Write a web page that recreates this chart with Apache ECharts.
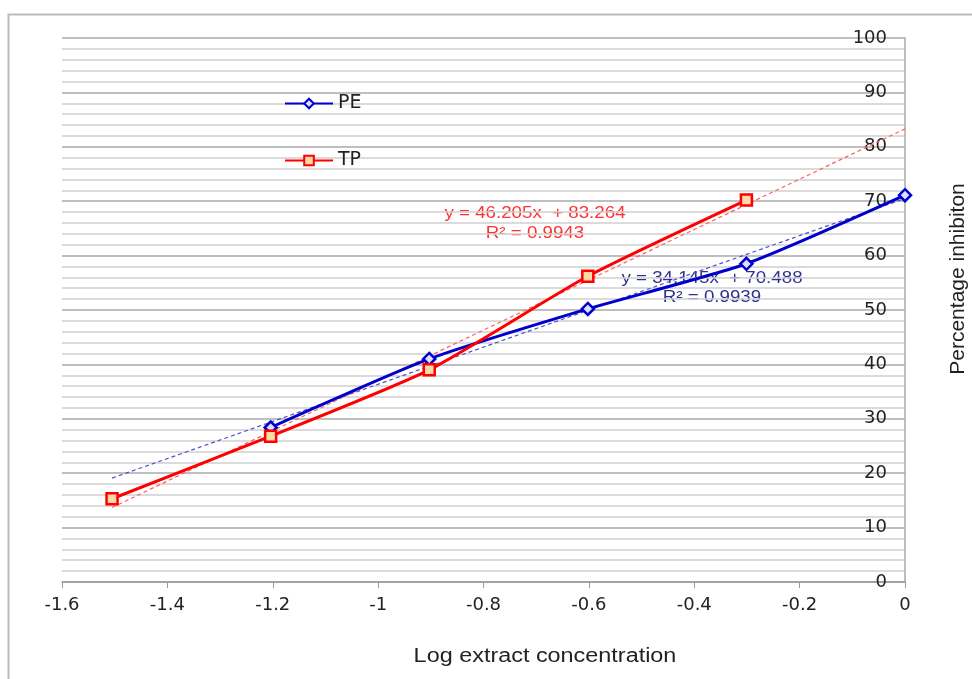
<!DOCTYPE html>
<html>
<head>
<meta charset="utf-8">
<script src="https://cdn.jsdelivr.net/npm/echarts@6/dist/echarts.min.js"></script>
<style>
  html, body { margin: 0; padding: 0; background: #fff; }
  #chart { width: 972px; height: 679px; }
</style>
</head>
<body>
<div id="chart"></div>
<script>
// values
const peX = [-1.204, -0.903, -0.602, -0.301, 0]
const peY = [28.4, 41.0, 50.2, 58.5, 71.1]
const tpX = [-1.505, -1.204, -0.903, -0.602, -0.301]
const tpY = [15.3, 26.8, 39.0, 56.2, 70.2]
// trendline end points (as drawn)
const peTrendX = [-1.505, 0]
const peTrendY = [19.1, 70.5]
const tpTrendX = [-1.505, 0]
const tpTrendY = [13.7, 83.3]
const peEquation = ['y = 34.145x  + 70.488', 'R² = 0.9939']
const tpEquation = ['y = 46.205x  + 83.264', 'R² = 0.9943']

const pairs = (xs, ys) => xs.map((x, i) => [x, ys[i]])

const font = '"Liberation Sans", Arial, sans-serif'
const wideFont = '"DejaVu Sans", sans-serif'
const chart = echarts.init(document.getElementById('chart'), null, { renderer: 'canvas' })

// the reference text is a little stretched sideways
const label = (x, y, text, color, size, rotation) => ({
  type: 'text',
  x: x,
  y: y,
  rotation: rotation || 0,
  scaleX: rotation ? 1 : 1.17,
  style: { text: text, fill: color, font: size + 'px ' + font, textAlign: 'center', textVerticalAlign: 'middle' }
})

const option = {
  backgroundColor: '#fff',
  animation: false,
  textStyle: { fontFamily: wideFont },
  grid: { left: 62, right: 67, top: 38, bottom: 97, containLabel: false },
  legend: {
    data: ['PE', 'TP'],
    orient: 'vertical',
    left: 279,
    top: 89,
    itemGap: 38,
    itemWidth: 48,
    itemHeight: 12,
    textStyle: { fontSize: 19, color: '#222', fontFamily: wideFont }
  },
  xAxis: {
    type: 'value',
    min: -1.6,
    max: 0,
    interval: 0.2,
    axisLine: { show: true, onZero: false, lineStyle: { color: '#999', width: 1.5 } },
    axisTick: { show: true, length: 6, lineStyle: { color: '#999' } },
    axisLabel: {
      color: '#222',
      fontSize: 18,
      fontFamily: wideFont,
      margin: 14,
      formatter: v => String(Math.round(v * 10) / 10)
    },
    splitLine: { show: false }
  },
  yAxis: {
    type: 'value',
    position: 'right',
    min: 0,
    max: 100,
    interval: 10,
    axisLine: { show: true, lineStyle: { color: '#aaa', width: 1.5 } },
    axisTick: { show: false },
    axisLabel: { inside: true, color: '#222', fontSize: 18, fontFamily: wideFont, margin: 18 },
    splitLine: { show: true, lineStyle: { color: '#aaa', width: 1.5 } },
    minorTick: { show: false, splitNumber: 5 },
    minorSplitLine: { show: true, lineStyle: { color: '#d0d0d0', width: 1.5 } }
  },
  series: [
    {
      name: 'PE trend',
      type: 'line',
      data: pairs(peTrendX, peTrendY),
      showSymbol: false,
      silent: true,
      lineStyle: { color: '#5050c8', width: 1.2, type: [4, 3] },
      z: 1
    },
    {
      name: 'TP trend',
      type: 'line',
      data: pairs(tpTrendX, tpTrendY),
      showSymbol: false,
      silent: true,
      lineStyle: { color: '#ff6060', width: 1.2, type: [4, 3] },
      z: 1
    },
    {
      name: 'PE',
      type: 'line',
      data: pairs(peX, peY),
      smooth: 0.2,
      symbol: 'diamond',
      symbolSize: 12,
      itemStyle: { color: '#dde0ff', borderColor: '#0000cc', borderWidth: 2.5 },
      lineStyle: { color: '#0000cc', width: 3 },
      z: 3
    },
    {
      name: 'TP',
      type: 'line',
      data: pairs(tpX, tpY),
      smooth: 0.2,
      symbol: 'rect',
      symbolSize: 11,
      itemStyle: { color: '#ffd8a8', borderColor: '#ff0000', borderWidth: 2.5 },
      lineStyle: { color: '#ff0000', width: 3 },
      z: 3
    }
  ],
  graphic: [
    {
      type: 'rect',
      left: 6, top: 12,
      shape: { width: 1000, height: 700 },
      style: { fill: 'none', stroke: '#bbb', lineWidth: 2 },
      silent: true,
      z: -10
    },
    label(535, 214, tpEquation[0], '#ff3030', 16),
    label(535, 234, tpEquation[1], '#ff3030', 16),
    label(712, 279, peEquation[0], '#303090', 16),
    label(712, 298, peEquation[1], '#303090', 16),
    label(545, 656, 'Log extract concentration', '#222', 20),
    label(958, 279, 'Percentage inhibiton', '#222', 21, Math.PI / 2)
  ]
}

chart.setOption(option)
</script>
</body>
</html>
